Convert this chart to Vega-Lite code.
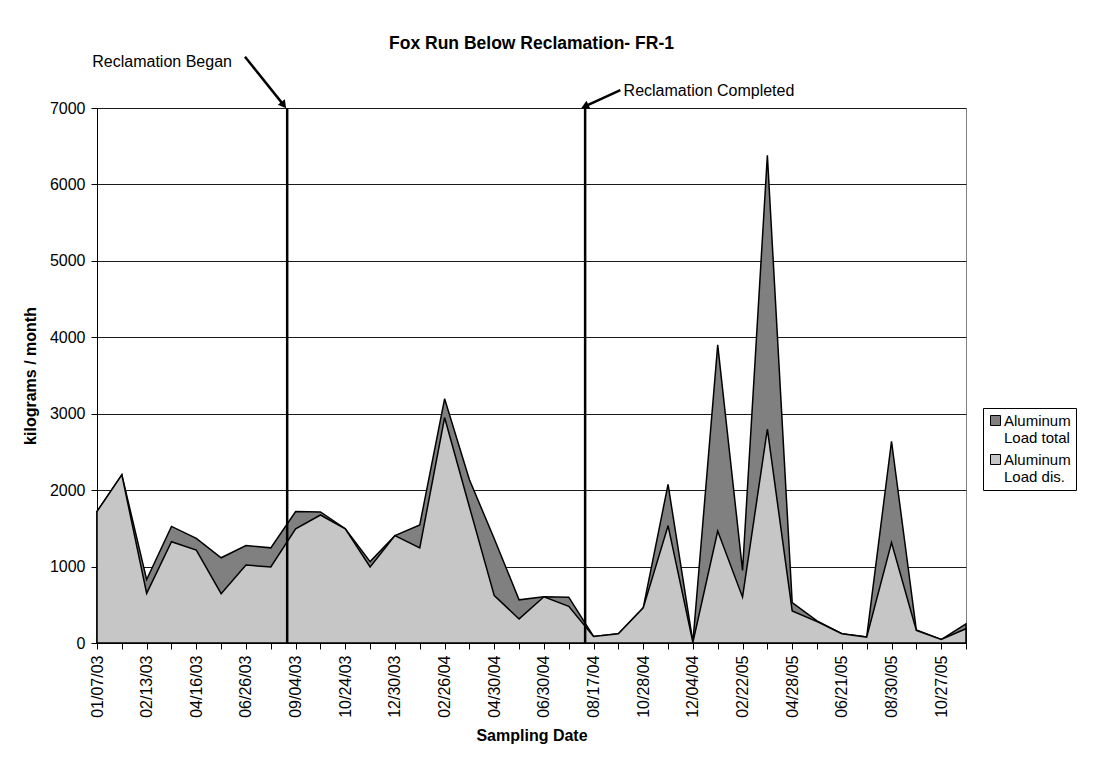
{
  "$schema": "https://vega.github.io/schema/vega-lite/v6.json",
  "width": 869,
  "height": 535,
  "autosize": {"type": "none"},
  "padding": {"left": 97, "top": 108, "right": 128, "bottom": 118},
  "background": "white",
  "title": {
    "text": "Fox Run Below Reclamation- FR-1",
    "font": "Liberation Sans",
    "fontSize": 17.5,
    "fontWeight": "bold",
    "color": "black",
    "anchor": "middle",
    "offset": 1
  },
  "datasets": {
    "loads": [
      {"i": 0, "total": 1720, "dis": 1720},
      {"i": 1, "total": 2200, "dis": 2200},
      {"i": 2, "total": 830, "dis": 650},
      {"i": 3, "total": 1525, "dis": 1325},
      {"i": 4, "total": 1370, "dis": 1215},
      {"i": 5, "total": 1115, "dis": 645},
      {"i": 6, "total": 1275, "dis": 1020},
      {"i": 7, "total": 1245, "dis": 995},
      {"i": 8, "total": 1720, "dis": 1495},
      {"i": 9, "total": 1715, "dis": 1675},
      {"i": 10, "total": 1495, "dis": 1495},
      {"i": 11, "total": 1065, "dis": 995},
      {"i": 12, "total": 1405, "dis": 1405},
      {"i": 13, "total": 1545, "dis": 1245},
      {"i": 14, "total": 3195, "dis": 2950},
      {"i": 15, "total": 2135, "dis": 1780},
      {"i": 16, "total": 1365, "dis": 620},
      {"i": 17, "total": 565, "dis": 315},
      {"i": 18, "total": 605, "dis": 605},
      {"i": 19, "total": 600, "dis": 480},
      {"i": 20, "total": 85, "dis": 85},
      {"i": 21, "total": 122, "dis": 122},
      {"i": 22, "total": 460, "dis": 460},
      {"i": 23, "total": 2075, "dis": 1535},
      {"i": 24, "total": 10, "dis": 10},
      {"i": 25, "total": 3900, "dis": 1465},
      {"i": 26, "total": 950, "dis": 600},
      {"i": 27, "total": 6380, "dis": 2800},
      {"i": 28, "total": 530, "dis": 420},
      {"i": 29, "total": 290, "dis": 280},
      {"i": 30, "total": 122, "dis": 122},
      {"i": 31, "total": 77, "dis": 77},
      {"i": 32, "total": 2640, "dis": 1315},
      {"i": 33, "total": 170, "dis": 164},
      {"i": 34, "total": 45, "dis": 45},
      {"i": 35, "total": 250, "dis": 187}
    ],
    "events": [
      {"event": "Reclamation Began", "lineX": 7.66, "fromX": 5.96, "fromY": 7671, "headX": 7.52, "headY": 7038, "textX": -0.19, "textY": 7606},
      {"event": "Reclamation Completed", "lineX": 19.66, "fromX": 21.08, "fromY": 7235, "headX": 19.65, "headY": 7022, "textX": 21.21, "textY": 7226}
    ]
  },
  "encoding": {
    "x": {
      "field": "i",
      "type": "quantitative",
      "scale": {"domain": [0, 35], "nice": false, "zero": false},
      "axis": {
        "title": "Sampling Date",
        "values": [0,1,2,3,4,5,6,7,8,9,10,11,12,13,14,15,16,17,18,19,20,21,22,23,24,25,26,27,28,29,30,31,32,33,34,35],
        "labelExpr": "datum.value % 2 === 0 ? ['01/07/03','02/13/03','04/16/03','06/26/03','09/04/03','10/24/03','12/30/03','02/26/04','04/30/04','06/30/04','08/17/04','10/28/04','12/04/04','02/22/05','04/28/05','06/21/05','08/30/05','10/27/05'][datum.value / 2] : ''",
        "labelAngle": 270,
        "labelAlign": "right",
        "labelBaseline": "middle",
        "labelPadding": 6,
        "tickSize": 6,
        "grid": false,
        "labelOverlap": false,
        "labelFlush": false,
        "titlePadding": 10
      }
    }
  },
  "layer": [
    {
      "data": {"name": "loads"},
      "mark": {"type": "area", "stroke": "black", "strokeWidth": 1.5, "strokeJoin": "miter", "opacity": 1, "fillOpacity": 1},
      "encoding": {
        "y": {
          "field": "total",
          "type": "quantitative",
          "scale": {"domain": [0, 7000], "nice": false},
          "axis": {
            "title": "kilograms / month",
            "values": [0, 1000, 2000, 3000, 4000, 5000, 6000, 7000],
            "format": "d",
            "grid": true,
            "gridColor": "#1a1a1a",
            "gridWidth": 1,
            "tickSize": 6,
            "labelPadding": 6,
            "titlePadding": 11
          }
        },
        "color": {
          "datum": "Aluminum Load total",
          "scale": {"domain": ["Aluminum Load total", "Aluminum Load dis."], "range": ["#808080", "#c6c6c6"]},
          "legend": {
            "title": null,
            "orient": "none",
            "legendX": 886,
            "legendY": 300,
            "strokeColor": "black",
            "fillColor": "white",
            "padding": 5,
            "labelFont": "Liberation Sans",
            "labelFontSize": 15,
            "labelColor": "black",
            "labelBaseline": "middle",
            "labelLimit": 0,
            "labelOffset": 1,
            "labelExpr": "[slice(datum.label, 0, 8), slice(datum.label, 9)]",
            "symbolType": "square",
            "symbolSize": 100,
            "symbolStrokeColor": "black",
            "symbolStrokeWidth": 1,
            "symbolOpacity": 1,
            "rowPadding": 6
          }
        }
      }
    },
    {
      "data": {"name": "loads"},
      "mark": {"type": "area", "stroke": "black", "strokeWidth": 1.5, "strokeJoin": "miter", "opacity": 1, "fillOpacity": 1},
      "encoding": {
        "y": {"field": "dis", "type": "quantitative"},
        "color": {"datum": "Aluminum Load dis."}
      }
    },
    {
      "data": {"name": "events"},
      "mark": {"type": "rule", "color": "black", "strokeWidth": 2.5},
      "encoding": {
        "x": {"field": "lineX", "type": "quantitative"},
        "y": {"datum": 0},
        "y2": {"datum": 7000}
      }
    },
    {
      "data": {"name": "events"},
      "mark": {"type": "rule", "color": "black", "strokeWidth": 2.5},
      "encoding": {
        "x": {"field": "fromX", "type": "quantitative"},
        "y": {"field": "fromY", "type": "quantitative"},
        "x2": {"field": "headX"},
        "y2": {"field": "headY"}
      }
    },
    {
      "data": {"name": "events"},
      "transform": [{"filter": "datum.event === 'Reclamation Began'"}],
      "mark": {"type": "point", "shape": "triangle-up", "filled": true, "color": "black", "opacity": 1, "size": 80, "angle": 142},
      "encoding": {
        "x": {"field": "headX", "type": "quantitative"},
        "y": {"field": "headY", "type": "quantitative"}
      }
    },
    {
      "data": {"name": "events"},
      "transform": [{"filter": "datum.event === 'Reclamation Completed'"}],
      "mark": {"type": "point", "shape": "triangle-up", "filled": true, "color": "black", "opacity": 1, "size": 80, "angle": 245},
      "encoding": {
        "x": {"field": "headX", "type": "quantitative"},
        "y": {"field": "headY", "type": "quantitative"}
      }
    },
    {
      "data": {"name": "events"},
      "mark": {"type": "text", "align": "left", "baseline": "middle", "font": "Liberation Sans", "fontSize": 16, "color": "black"},
      "encoding": {
        "x": {"field": "textX", "type": "quantitative"},
        "y": {"field": "textY", "type": "quantitative"},
        "text": {"field": "event"}
      }
    }
  ],
  "config": {
    "font": "Liberation Sans",
    "view": {"stroke": "#808080", "strokeWidth": 1},
    "axis": {
      "labelFont": "Liberation Sans",
      "labelFontSize": 16,
      "labelColor": "black",
      "titleFont": "Liberation Sans",
      "titleFontSize": 16,
      "titleFontWeight": "bold",
      "titleColor": "black",
      "domainColor": "black",
      "domainWidth": 1,
      "tickColor": "black",
      "tickWidth": 1
    }
  }
}
